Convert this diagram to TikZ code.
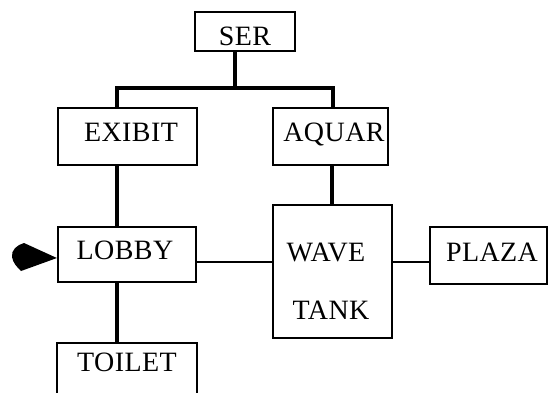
\documentclass[tikz,border=0pt]{standalone}
\usepackage{fontspec}
\setmainfont[LetterSpace=1.5]{Liberation Serif}
\begin{document}
\begin{tikzpicture}[x=1bp,y=-1bp,
  box/.style={draw=black,line width=2.2bp,minimum width=#1,inner sep=0pt},
  lbl/.style={inner sep=0pt,text depth=0pt,font=\fontsize{28bp}{32bp}\selectfont},
  trunk/.style={line width=4.5bp},
  link/.style={line width=2.2bp}]
\useasboundingbox (0,0) rectangle (551,392);
\clip (0,0) rectangle (551,392);
% rooms
\node[box=100bp,minimum height=39bp] (ser)    at (245,31.5)  {};
\node[box=139bp,minimum height=57bp] (exibit) at (127.5,136.5) {};
\node[box=115bp,minimum height=57bp] (aquar)  at (330.5,136.5) {};
\node[box=138bp,minimum height=55bp] (lobby)  at (127,254.5) {};
\node[box=140bp,minimum height=58bp] (toilet) at (127,372) {};
\node[box=119bp,minimum height=133bp] (wave)  at (332.5,271.5) {};
\node[box=117bp,minimum height=57bp] (plaza)  at (488.5,255.5) {};
% names
\node[lbl] (tser)    at (245,36)   {SER};
\node[lbl] (texibit) at (131,132)  {EXIBIT};
\node[lbl] (taquar)  at (334,132)  {AQUAR};
\node[lbl] (tlobby)  at (125,250)  {LOBBY};
\node[lbl] (ttoilet) at (127,362)  {TOILET};
\node[lbl] (twave)   at (326,252)  {WAVE};
\node[lbl] (ttank)   at (331,310)  {TANK};
\node[lbl] (tplaza)  at (492,252)  {PLAZA};
% tree of heavy connectors
\coordinate (bar) at (235,88);
\coordinate (lx) at (117,0);
\coordinate (rx) at (333,0);
\draw[trunk] (ser.south -| bar) -- (bar);
\draw[trunk] (exibit.north -| lx) |- (bar) -| (aquar.north -| rx);
\draw[trunk] (exibit.south -| lx) -- (lobby.north -| lx);
\draw[trunk] (lobby.south -| lx) -- (toilet.north -| lx);
\draw[trunk] (aquar.south -| 332,0) -- (wave.north -| 332,0);
% light connectors
\coordinate (mid) at (0,262);
\draw[link] (lobby.east |- mid) -- (wave.west |- mid);
\draw[link] (wave.east |- mid) -- (plaza.west |- mid);
% entrance arrow
\coordinate (tip) at (lobby.west |- 0,258);
\fill (tip) -- (24,243) .. controls (17,245) and (11,250) .. (12,257)
  .. controls (13,263) and (17,267) .. (21,271) -- cycle;
\end{tikzpicture}
\end{document}
